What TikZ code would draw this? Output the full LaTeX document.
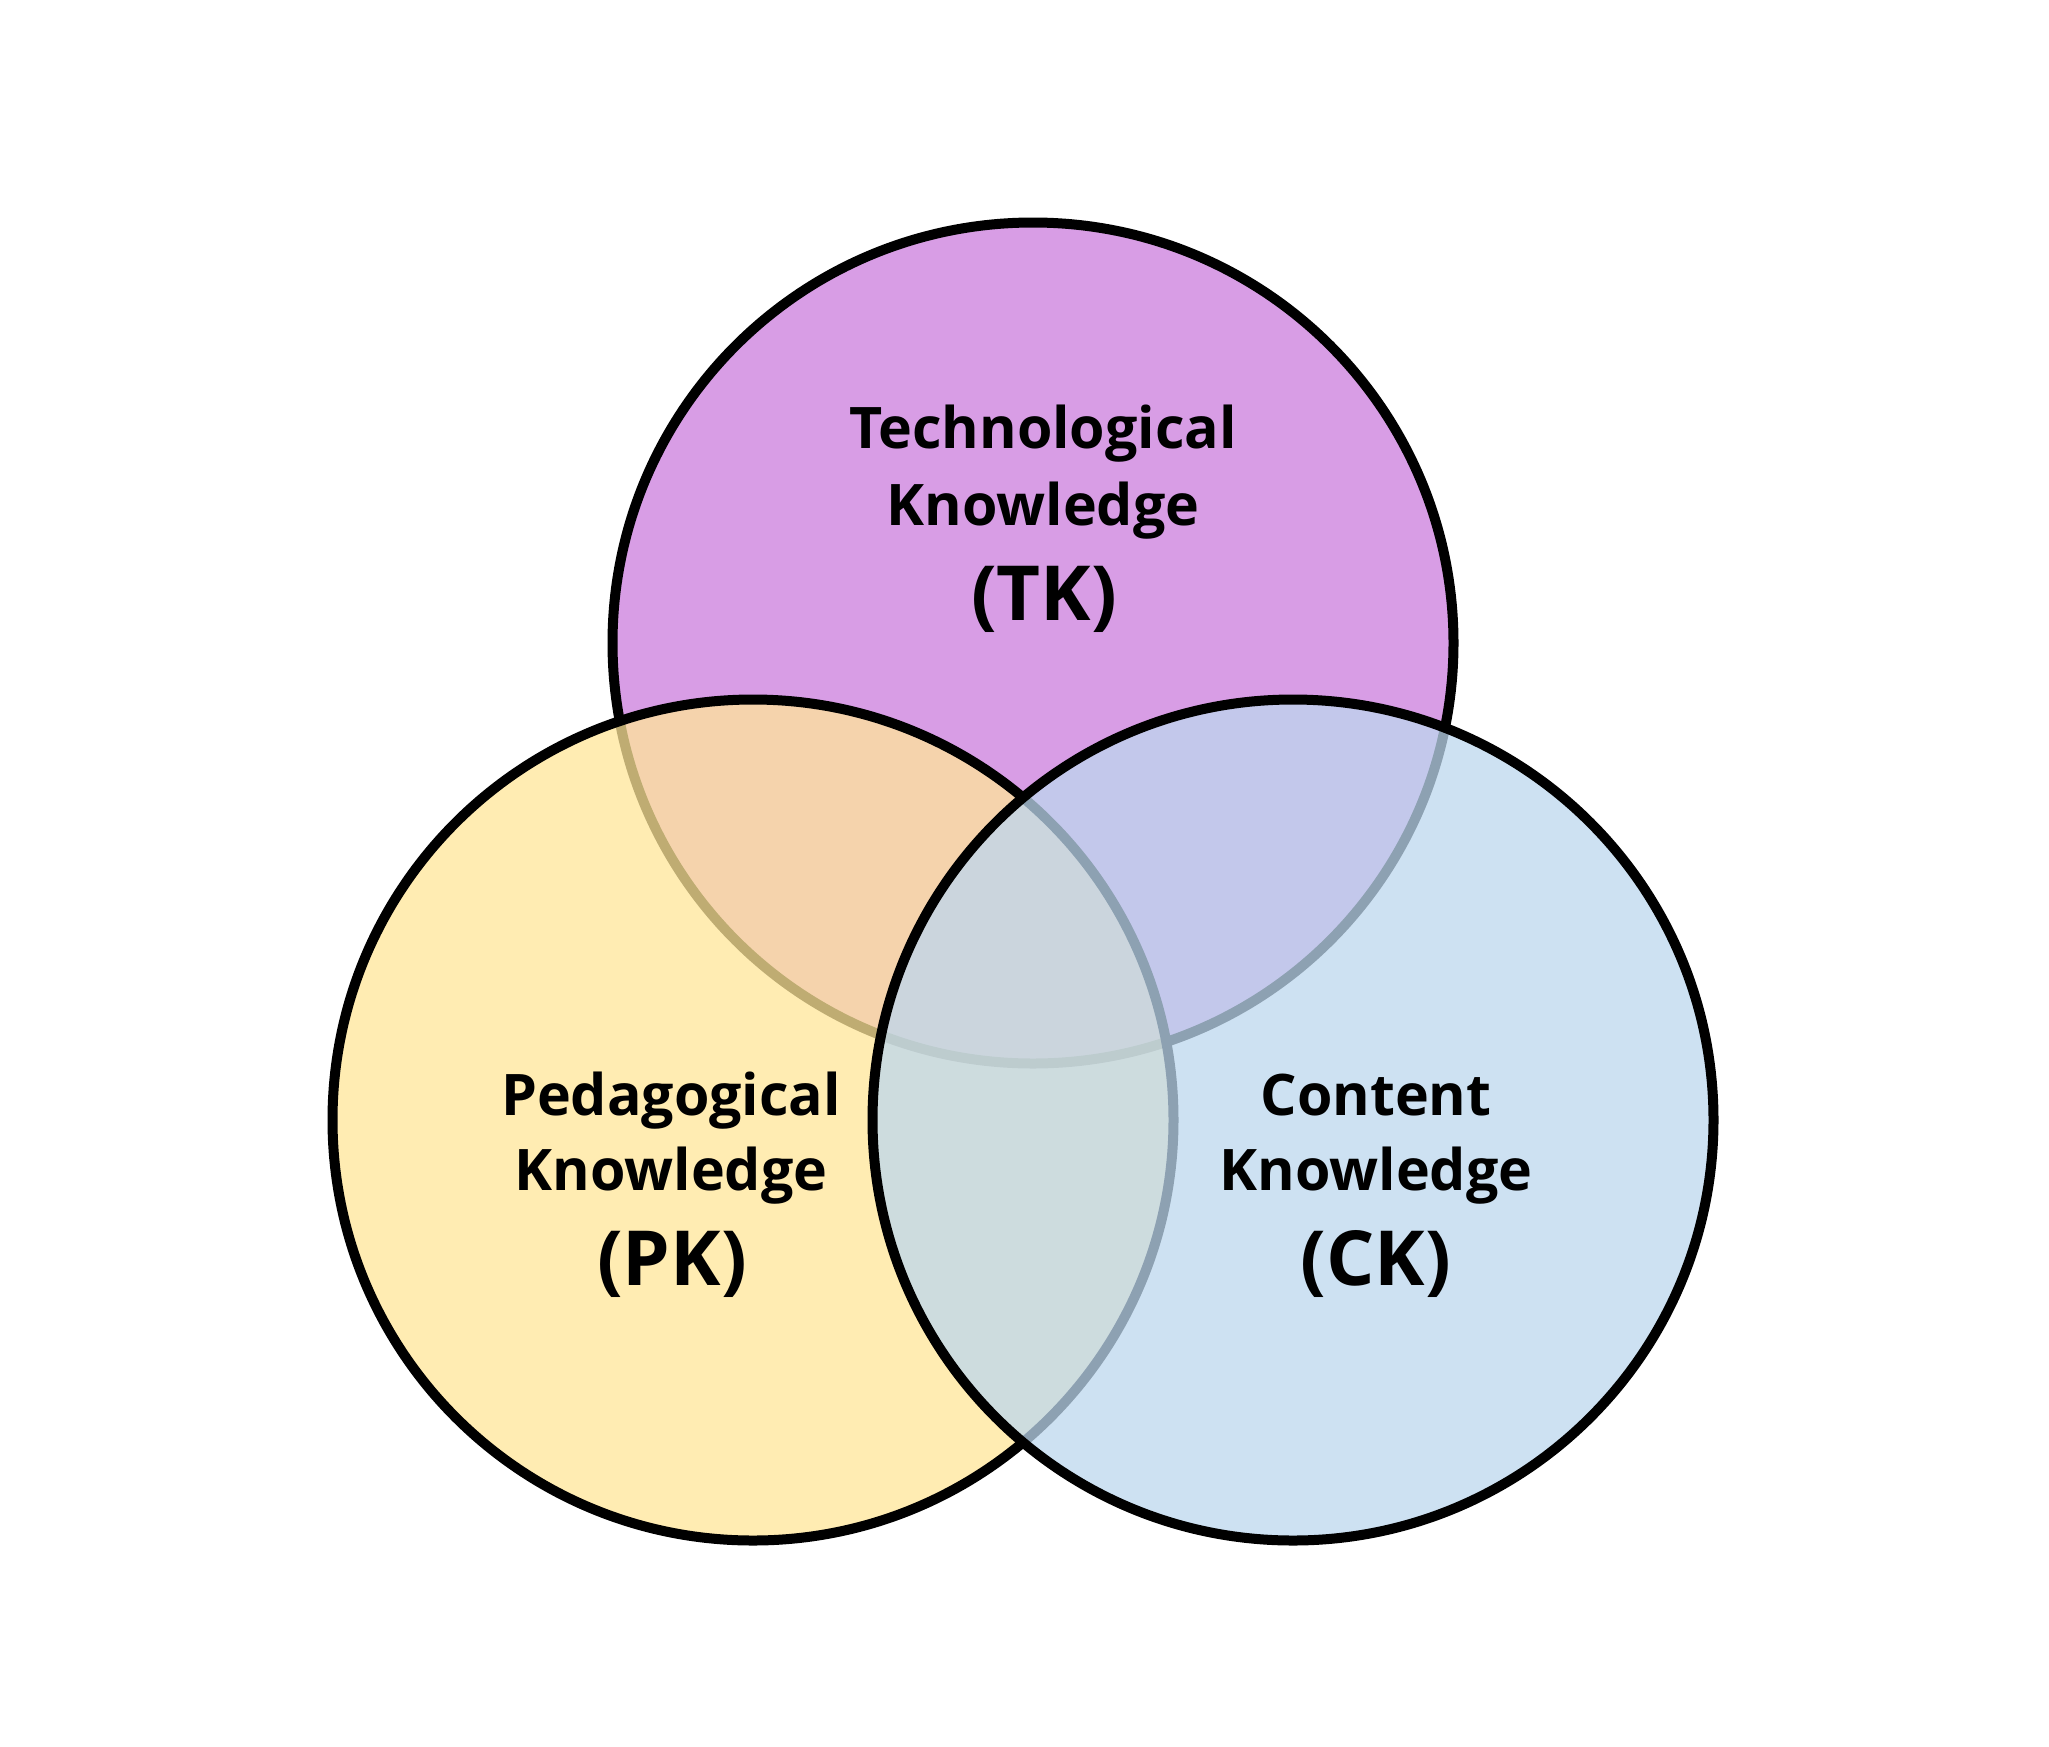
\documentclass[tikz,border=0pt]{standalone}
\usepackage{fontspec}
\setmainfont{Open Sans}
\definecolor{tkfill}{HTML}{D89DE5}
\definecolor{pkfill}{HTML}{FFE699}
\definecolor{ckfill}{HTML}{BDD7EE}
\tikzset{
  ring/.style={line width=10pt, draw=black},
  small/.style={font=\bfseries\fontsize{57.3}{70}\selectfont, anchor=base, inner sep=0pt},
  big/.style={font=\bfseries\fontsize{76}{90}\selectfont, anchor=base, inner sep=0pt}
}
\begin{document}
\begin{tikzpicture}[x=1pt,y=-1pt]
\useasboundingbox[fill=white] (0,0) rectangle (2049,1746);
\coordinate (tk) at (1033,643);
\coordinate (pk) at (753,1120);
\coordinate (ck) at (1293,1120);
\def\rad{420.5}
% TK
\fill[tkfill] (tk) circle[radius=\rad];
\draw[ring] (tk) circle[radius=\rad];
% PK
\fill[pkfill, fill opacity=0.75] (pk) circle[radius=\rad];
\draw[ring] (pk) circle[radius=\rad];
% CK
\fill[ckfill, fill opacity=0.75] (ck) circle[radius=\rad];
\draw[ring] (ck) circle[radius=\rad];
% labels
\node[small] (tka) at (1043,448) {Technological};
\node[small] (tkb) at (1043,525) {Knowledge};
\node[big]   (tkc) at (1044,620) {(TK)};
\node[small] (pka) at (671,1115) {Pedagogical};
\node[small] (pkb) at (671,1190) {Knowledge};
\node[big]   (pkc) at (672,1285) {(PK)};
\node[small] (cka) at (1376,1115) {Content};
\node[small] (ckb) at (1376,1190) {Knowledge};
\node[big]   (ckc) at (1376,1285) {(CK)};
\end{tikzpicture}
\end{document}
